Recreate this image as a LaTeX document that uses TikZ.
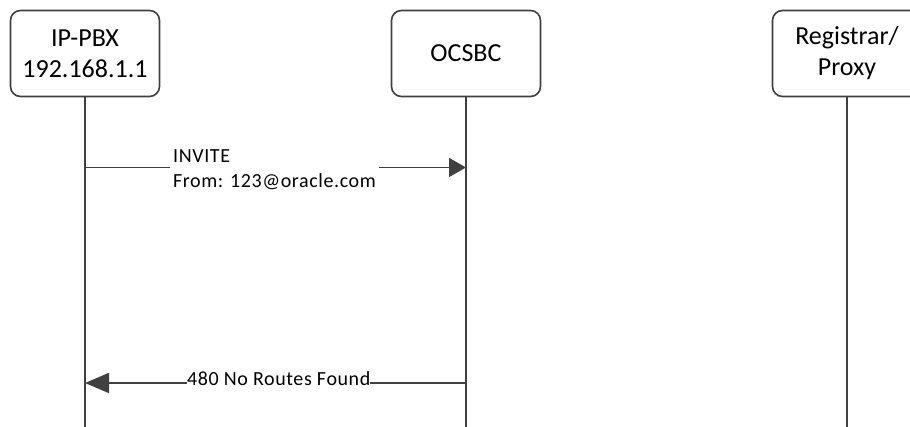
\documentclass[tikz,border=0pt]{standalone}
\usepackage{fontspec}
\setmainfont{Carlito}
\usetikzlibrary{arrows.meta}
\definecolor{ln}{RGB}{64,64,64}
\tikzset{
  actor/.style={draw=ln, line width=1.6pt, rounded corners=10pt, minimum width=149pt,
    minimum height=86pt, align=center, inner sep=0pt, font=\fontsize{26}{31}\selectfont},
  life/.style={draw=ln, line width=1.6pt},
  msg/.style={draw=ln, line width=1.6pt},
  msglabel/.style={fill=white, inner xsep=3pt, inner ysep=1pt, align=left,
    font=\fontsize{20}{25}\selectfont\addfontfeatures{LetterSpace=3}}
}
\begin{document}
\begin{tikzpicture}[x=1pt,y=-1pt]
\useasboundingbox (0,0) rectangle (910,427);
\clip (0,0) rectangle (910,427);
\node[actor] (pbx) at (85,53.5) {IP-PBX\\192.168.1.1};
\node[actor] (sbc) at (466,53.5) {OCSBC};
\node[actor] (reg) at (847,53.5) {Registrar/\\Proxy};
\coordinate (pbxend) at (pbx.south |- 0,430);
\coordinate (sbcend) at (sbc.south |- 0,430);
\coordinate (regend) at (reg.south |- 0,430);
\draw[life] (pbx.south) -- (pbxend);
\draw[life] (sbc.south) -- (sbcend);
\draw[life] (reg.south) -- (regend);
% INVITE
\coordinate (inv1) at (pbx.south |- 0,167.5);
\coordinate (inv2) at (sbc.south |- 0,167.5);
\draw[msg, -{Triangle[length=17pt,width=19pt]}] (inv1) -- (inv2);
\node[msglabel, anchor=west] (invlbl) at (170,170) {INVITE\\From: 123@oracle.com};
% 480
\coordinate (r1) at (sbc.south |- 0,383);
\coordinate (r2) at (pbx.south |- 0,383);
\draw[msg, -{Triangle[length=24pt,width=20pt]}] (r1) -- (r2);
\node[msglabel, anchor=base west, inner xsep=0pt, inner ysep=0pt] (rlbl) at (187,385.5) {480 No Routes Found};
\end{tikzpicture}
\end{document}
